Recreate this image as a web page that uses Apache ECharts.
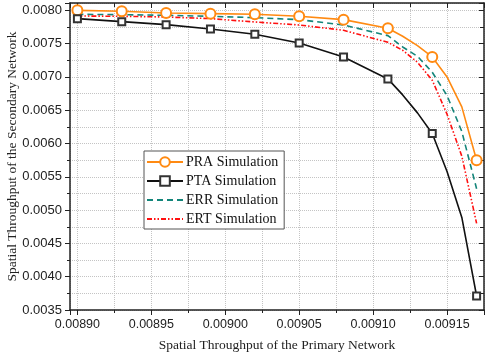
<!DOCTYPE html>
<html>
<head>
<meta charset="utf-8">
<script src="https://cdn.jsdelivr.net/npm/echarts@6/dist/echarts.min.js"></script>
<style>
    html, body { margin: 0; padding: 0; background: #fff; }
    #chart { width: 485px; height: 354px; }
</style>
</head>
<body>
<div id="chart"></div>
<script>
    // x positions of the curves (primary network throughput)
    var xValues = [0.00890, 0.00893, 0.00896, 0.00899, 0.00902, 0.00905, 0.00908,
                   0.00911, 0.00912, 0.00913, 0.00914, 0.00915, 0.00916, 0.00917];
    // which points carry a marker
    var markerIdx = [0, 1, 2, 3, 4, 5, 6, 7, 10, 13];

    var praValues = [0.00800, 0.007985, 0.00796, 0.00795, 0.00794, 0.00791, 0.00786,
                     0.00773, 0.00761, 0.00747, 0.00730, 0.00700, 0.00655, 0.00575];
    var ptaValues = [0.007875, 0.00783, 0.007785, 0.00772, 0.00764, 0.00751, 0.00730,
                     0.00697, 0.00673, 0.00646, 0.00615, 0.00558, 0.00489, 0.00371];
    var errValues = [0.00794, 0.007935, 0.007925, 0.00791, 0.00789, 0.00786, 0.00778,
                     0.00762, 0.00745, 0.00731, 0.00707, 0.00672, 0.00618, 0.00532];
    var ertValues = [0.007915, 0.00791, 0.00790, 0.007875, 0.007825, 0.00778, 0.00770,
                     0.00752, 0.00740, 0.00722, 0.00695, 0.00644, 0.00581, 0.00480];

    var seriesNames = ['PRA Simulation', 'PTA Simulation', 'ERR Simulation', 'ERT Simulation'];

    function toData(ys, withMarkers) {
        return xValues.map(function (x, i) {
            var item = { value: [x, ys[i]] };
            if (!withMarkers || markerIdx.indexOf(i) < 0) {
                item.symbol = 'none';
            }
            return item;
        });
    }

    function onStep(v, step) {
        var r = v / step;
        return Math.abs(r - Math.round(r)) < 1e-6;
    }

    var serif = '"Liberation Serif", "DejaVu Serif", serif';
    var sans = '"Liberation Sans", Arial, sans-serif';
    var gridLine = { show: true, lineStyle: { color: '#c4c4c4', type: 'dotted', width: 1 } };

    var chart = echarts.init(document.getElementById('chart'));
    var option = {
        animation: false,
        backgroundColor: '#fff',
        grid: { left: 70, right: 1, top: 3, bottom: 44, outerBoundsMode: 'none', containLabel: false },
        legend: {
            data: [
                { name: seriesNames[0] },
                { name: seriesNames[1] },
                { name: seriesNames[2], itemStyle: { opacity: 0 } },
                { name: seriesNames[3], itemStyle: { opacity: 0 } }
            ],
            orient: 'vertical',
            left: 144,
            top: 151,
            itemWidth: 36,
            itemHeight: 12,
            itemGap: 5,
            padding: [4, 6, 3, 2],
            borderColor: '#555',
            borderWidth: 1,
            backgroundColor: '#fff',
            textStyle: { fontFamily: serif, fontSize: 14, color: '#111', padding: [0, 0, 0, -2] }
        },
        xAxis: [
            {
                type: 'value',
                min: 0.008895,
                max: 0.009175,
                splitNumber: 5,
                name: 'Spatial Throughput of the Primary Network',
                nameLocation: 'middle',
                nameGap: 28,
                nameMoveOverlap: false,
                nameTextStyle: { fontFamily: serif, fontSize: 13.5, color: '#222' },
                axisLine: { lineStyle: { color: '#222', width: 1.5 } },
                axisTick: { inside: false, length: 5, lineStyle: { color: '#222', width: 1 } },
                minorTick: { show: true, splitNumber: 2, length: 3, lineStyle: { color: '#222' } },
                splitLine: gridLine,
                minorSplitLine: gridLine,
                axisLabel: {
                    margin: 8,
                    fontFamily: sans,
                    fontSize: 12.5,
                    color: '#222',
                    formatter: function (v) { return onStep(v, 0.00005) ? v.toFixed(5) : ''; }
                }
            },
            {
                type: 'value',
                position: 'top',
                min: 0.008895,
                max: 0.009175,
                splitNumber: 5,
                axisLine: { lineStyle: { color: '#222', width: 1.5 } },
                axisTick: { inside: true, length: 5, lineStyle: { color: '#222' } },
                minorTick: { show: true, splitNumber: 2, length: 4, lineStyle: { color: '#222' } },
                splitLine: { show: false },
                axisLabel: { show: false }
            }
        ],
        yAxis: [
            {
                type: 'value',
                min: 0.0035,
                max: 0.00811,
                splitNumber: 9,
                name: 'Spatial Throughput of the Secondary Network',
                nameLocation: 'middle',
                nameGap: 51,
                nameMoveOverlap: false,
                nameTextStyle: { fontFamily: serif, fontSize: 13.5, color: '#222' },
                axisLine: { show: true, lineStyle: { color: '#222', width: 1.5 } },
                axisTick: { show: true, inside: false, length: 5, lineStyle: { color: '#222' } },
                minorTick: { show: true, splitNumber: 2, length: 3, lineStyle: { color: '#222' } },
                splitLine: gridLine,
                minorSplitLine: gridLine,
                axisLabel: {
                    margin: 8,
                    fontFamily: sans,
                    fontSize: 13,
                    color: '#222',
                    formatter: function (v) { return onStep(v, 0.0005) ? v.toFixed(4) : ''; }
                }
            },
            {
                type: 'value',
                position: 'right',
                min: 0.0035,
                max: 0.00811,
                splitNumber: 9,
                axisLine: { show: true, lineStyle: { color: '#222', width: 1.5 } },
                axisTick: { show: true, inside: true, length: 5, lineStyle: { color: '#222' } },
                minorTick: { show: true, splitNumber: 2, length: 4, lineStyle: { color: '#222' } },
                splitLine: { show: false },
                axisLabel: { show: false }
            }
        ],
        series: [
            {
                name: seriesNames[0],
                type: 'line',
                data: toData(praValues, true),
                symbol: 'emptyCircle',
                symbolSize: 10,
                color: '#ff8a12',
                itemStyle: { color: '#ff8a12', borderWidth: 1.2 },
                lineStyle: { color: '#ff8a12', width: 1.6 },
                z: 5
            },
            {
                name: seriesNames[1],
                type: 'line',
                data: toData(ptaValues, true),
                symbol: 'emptyRect',
                symbolSize: 7,
                color: '#111',
                itemStyle: { color: '#333', borderWidth: 1 },
                lineStyle: { color: '#111', width: 1.6 },
                z: 5
            },
            {
                name: seriesNames[2],
                type: 'line',
                data: toData(errValues, false),
                symbol: 'none',
                color: '#13857a',
                lineStyle: { color: '#13857a', width: 1.6, type: [6, 4] }
            },
            {
                name: seriesNames[3],
                type: 'line',
                data: toData(ertValues, false),
                symbol: 'none',
                color: '#ff1010',
                lineStyle: { color: '#ff1010', width: 1.6, type: [5, 2, 1.5, 2, 1.5, 2] }
            }
        ]
    };
    chart.setOption(option);
</script>
</body>
</html>
